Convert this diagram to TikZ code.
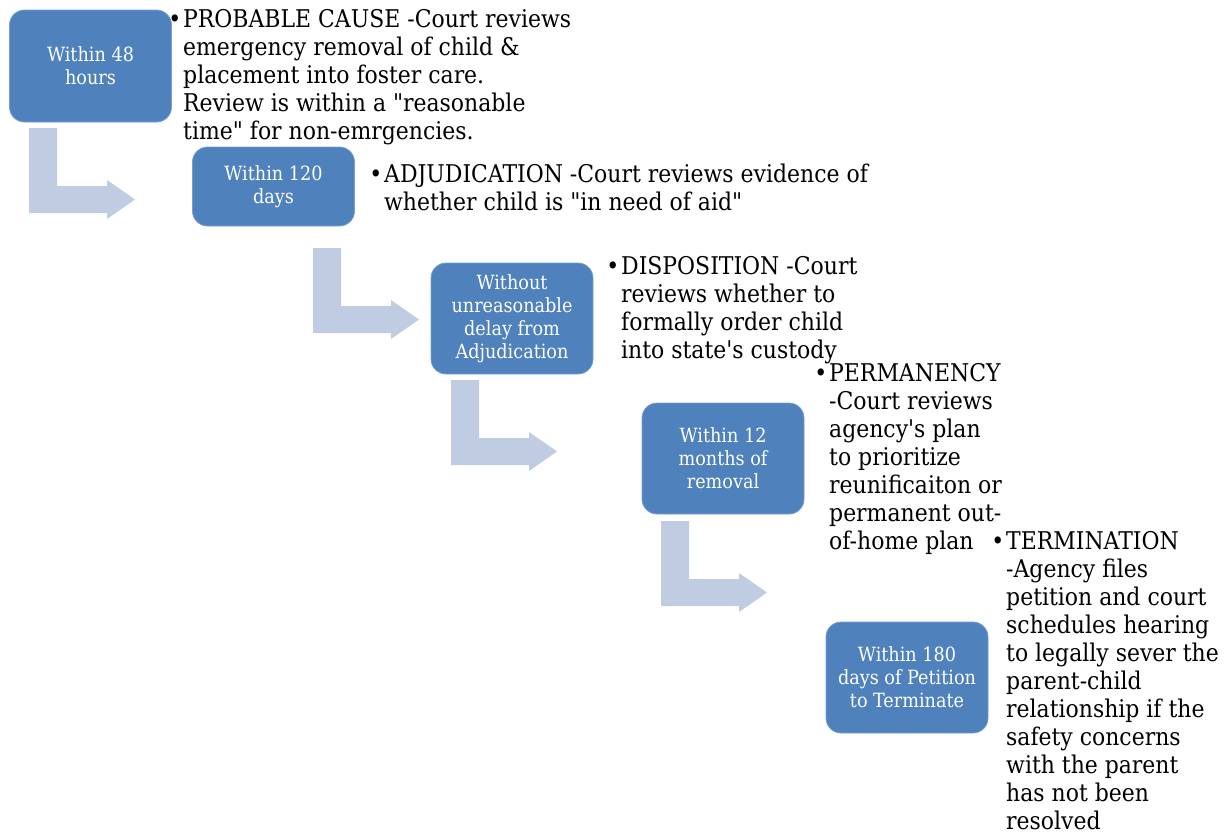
\documentclass[tikz,border=0pt]{standalone}
\usepackage{fontspec}
\setmainfont[Ligatures=TeXOff]{DejaVu Serif Condensed}
\definecolor{boxblue}{RGB}{79,129,189}
\definecolor{boxedge}{RGB}{120,158,208}
\definecolor{arrowgray}{RGB}{192,204,226}
\tikzset{
  x=1pt, y=-1pt,
  bx/.style={fill=boxblue, draw=boxedge, line width=0.8pt, rounded corners=15pt,
    minimum width=162pt, text=white, align=center, inner sep=2pt,
    font=\fontsize{19.6}{23}\selectfont},
  desc/.style={anchor=north west, inner sep=0pt, align=left, text=black,
    font=\fontsize{24.4}{28}\selectfont},
  bentarrow/.pic={
    \fill[arrowgray] (0,0) -- (28,0) -- (28,58) -- (78,58) -- (78,52) -- (106,71.5)
      -- (78,91) -- (78,85) -- (0,85) -- cycle;
  }
}
\newcommand{\bul}{\llap{•\hspace{2pt}}}
\begin{document}
\begin{tikzpicture}
\useasboundingbox (0,0) rectangle (1225,833);
% arrows
\pic at (29,128) {bentarrow};
\pic at (313,248) {bentarrow};
\pic at (451,380) {bentarrow};
\pic at (661,521) {bentarrow};
% boxes
\node[bx, minimum height=112pt] (b1) at (90.5,66) {Within 48\\hours};
\node[bx, minimum height=79pt] (b2) at (273.5,186.5) {Within 120\\days};
\node[bx, minimum height=111pt] (b3) at (512,318.5) {Without\\unreasonable\\delay from\\Adjudication};
\node[bx, minimum height=111pt] (b4) at (723,458.5) {Within 12\\months of\\removal};
\node[bx, minimum height=111pt] (b5) at (907,677.5) {Within 180\\days of Petition\\to Terminate};
% descriptions
\node[desc] (t1) at (183,7.4) {\strut\bul PROBABLE CAUSE -Court reviews\\emergency removal of child \&\\placement into foster care.\\Review is within a "reasonable\\time" for non-emrgencies.};
\node[desc] (t2) at (384,162.4) {\strut\bul ADJUDICATION -Court reviews evidence of\\whether child is "in need of aid"};
\node[desc] (t3) at (621,254.5) {\strut\bul DISPOSITION -Court\\reviews whether to\\formally order child\\into state's custody};
\node[desc] (t4) at (829,361.5) {\strut\bul PERMANENCY\\-Court reviews\\agency's plan\\to prioritize\\reunificaiton or\\permanent out-\\of-home plan};
\node[desc] (t5) at (1006,529.5) {\strut\bul TERMINATION\\-Agency files\\petition and court\\schedules hearing\\to legally sever the\\parent-child\\relationship if the\\safety concerns\\with the parent\\has not been\\resolved};
\end{tikzpicture}
\end{document}
